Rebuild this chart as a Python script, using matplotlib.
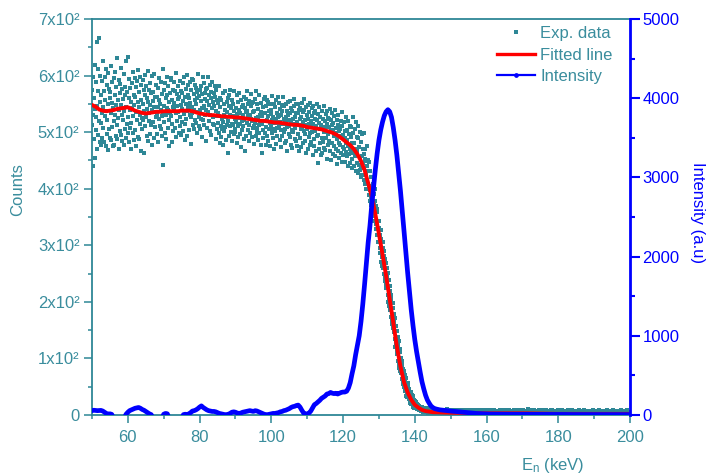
import numpy as np
import matplotlib
matplotlib.use('Agg')
import matplotlib.pyplot as plt
from matplotlib.lines import Line2D
from matplotlib.ticker import MultipleLocator

# ---------------- data ----------------
# Experimental counts, 0.1 keV grid starting at 50 keV
counts_50_84 = [
    512, 575, 441, 598, 530, 487, 560, 619, 455, 541,
    503, 588, 527, 470, 659, 546, 612, 495, 572, 520,
    666, 482, 553, 600, 517, 478, 566, 534, 591, 489,
    626, 544, 507, 572, 483, 598, 529, 556, 476, 612,
    538, 497, 583, 521, 604, 468, 549, 577, 505, 560,
    490, 571, 533, 617, 486, 552, 509, 588, 475, 543,
    596, 520, 478, 565, 531, 607, 493, 548, 580, 512,
    631, 487, 556, 525, 592, 471, 540, 569, 502, 585,
    548, 613, 495, 530, 576, 484, 559, 521, 603, 478,
    537, 580, 506, 565, 490, 626, 545, 514, 571, 498,
    633, 527, 561, 482, 594, 539, 508, 578, 553, 471,
    517, 586, 542, 499, 607, 528, 565, 486, 548, 595,
    562, 503, 579, 536, 476, 590, 521, 554, 610, 492,
    545, 571, 488, 598, 530, 514, 583, 467, 556, 525,
    505, 592, 549, 521, 574, 463, 538, 601, 510, 566,
    582, 527, 494, 560, 541, 608, 485, 553, 519, 574,
    533, 496, 587, 548, 512, 569, 477, 599, 539, 555,
    571, 518, 545, 603, 490, 536, 562, 509, 584, 527,
    497, 563, 531, 578, 544, 482, 595, 524, 557, 511,
    550, 589, 506, 540, 567, 493, 528, 612, 535, 442,
    518, 574, 547, 499, 586, 530, 561, 488, 543, 597,
    565, 508, 539, 581, 522, 553, 476, 570, 534, 592,
    529, 596, 483, 557, 515, 575, 545, 502, 588, 540,
    551, 507, 572, 534, 604, 491, 546, 567, 520, 558,
    582, 536, 499, 563, 527, 590, 511, 548, 573, 495,
    541, 569, 518, 586, 502, 555, 532, 598, 486, 562,
    515, 577, 549, 523, 601, 537, 494, 566, 545, 583,
    560, 503, 588, 531, 552, 479, 574, 526, 594, 544,
    533, 592, 512, 567, 540, 505, 584, 556, 521, 578,
    549, 517, 571, 498, 560, 535, 603, 511, 564, 527,
    574, 539, 506, 581, 524, 555, 492, 568, 543, 597,
    521, 586, 547, 513, 570, 531, 559, 484, 576, 540,
    555, 508, 578, 536, 597, 519, 548, 566, 502, 583,
    530, 571, 495, 560, 542, 588, 514, 553, 527, 569,
    547, 512, 582, 529, 563, 487, 575, 538, 556, 506,
]
counts_85_119 = [
    551, 516, 533, 582, 499, 528, 560, 481, 544, 511,
    492, 557, 524, 505, 569, 518, 477, 550, 531, 502,
    540, 509, 572, 486, 527, 554, 513, 536, 463, 561,
    519, 546, 494, 565, 510, 531, 575, 500, 542, 515,
    557, 484, 529, 512, 550, 497, 538, 573, 506, 524,
    501, 543, 518, 566, 480, 532, 511, 554, 491, 539,
    525, 570, 496, 534, 514, 557, 473, 545, 520, 503,
    548, 510, 531, 488, 562, 522, 542, 466, 536, 559,
    494, 538, 573, 517, 503, 549, 528, 485, 555, 513,
    531, 499, 546, 524, 567, 492, 520, 551, 508, 536,
    553, 510, 479, 537, 516, 558, 494, 525, 572, 501,
    508, 549, 527, 486, 541, 512, 565, 498, 530, 518,
    536, 477, 552, 514, 464, 529, 503, 545, 490, 559,
    520, 563, 499, 533, 509, 478, 547, 522, 556, 493,
    485, 528, 554, 506, 538, 517, 475, 549, 511, 532,
    540, 498, 521, 564, 489, 527, 505, 549, 471, 517,
    502, 545, 479, 523, 557, 508, 534, 493, 526, 563,
    529, 510, 552, 486, 518, 541, 474, 531, 504, 548,
    493, 537, 515, 562, 500, 524, 547, 481, 520, 506,
    549, 484, 526, 509, 538, 467, 530, 554, 497, 522,
    510, 555, 491, 533, 477, 518, 543, 504, 538, 472,
    524, 500, 546, 514, 559, 488, 526, 507, 549, 485,
    533, 475, 518, 550, 497, 534, 512, 467, 540, 523,
    489, 543, 505, 527, 474, 552, 509, 536, 481, 518,
    539, 502, 558, 485, 521, 497, 544, 513, 464, 530,
    505, 548, 470, 523, 492, 536, 514, 477, 552, 499,
    520, 482, 543, 501, 529, 460, 514, 547, 488, 533,
    476, 524, 502, 538, 466, 511, 550, 493, 521, 445,
    532, 495, 517, 471, 544, 506, 480, 527, 459, 512,
    489, 537, 463, 509, 524, 483, 546, 501, 472, 520,
    507, 468, 532, 490, 515, 453, 538, 496, 525, 478,
    524, 485, 509, 541, 467, 502, 521, 450, 513, 533,
    481, 516, 462, 504, 529, 475, 494, 540, 457, 508,
    498, 471, 522, 443, 487, 513, 466, 531, 480, 502,
    454, 506, 477, 520, 463, 494, 535, 448, 511, 473,
]
counts_120_144 = [
    495, 460, 518, 471, 502, 447, 489, 526, 465, 480,
    503, 458, 486, 519, 441, 475, 497, 462, 510, 470,
    445, 492, 468, 509, 452, 481, 436, 499, 463, 527,
    480, 440, 505, 458, 471, 431, 518, 465, 492, 446,
    467, 428, 489, 510, 442, 474, 433, 501, 456, 420,
    483, 437, 458, 424, 496, 445, 470, 415, 462, 498,
    452, 408, 471, 425, 449, 399, 440, 476, 414, 451,
    432, 389, 447, 404, 378, 431, 398, 386, 421, 372,
    405, 362, 396, 351, 409, 371, 343, 390, 358, 399,
    379, 337, 369, 328, 364, 318, 358, 331, 306, 343,
    343, 330, 296, 318, 286, 327, 270, 311, 279, 264,
    305, 259, 295, 281, 250, 290, 236, 243, 276, 229,
    268, 224, 259, 244, 213, 251, 199, 206, 238, 193,
    228, 185, 219, 205, 174, 212, 160, 167, 198, 154,
    189, 146, 178, 164, 135, 172, 120, 127, 157, 114,
    148, 108, 138, 123, 96, 131, 83, 89, 116, 77,
    111, 74, 101, 88, 64, 95, 54, 58, 82, 49,
    78, 49, 71, 60, 42, 66, 34, 38, 55, 31,
    56, 33, 50, 42, 28, 46, 22, 25, 38, 20,
    40, 23, 36, 30, 18, 33, 14, 16, 27, 12,
    25, 18, 23, 14, 21, 12, 19, 11, 17, 10,
    18, 12, 16, 9, 15, 8, 14, 7, 13, 9,
    14, 8, 12, 6, 11, 7, 13, 5, 10, 8,
    11, 6, 10, 5, 9, 12, 7, 4, 9, 6,
    10, 5, 8, 11, 6, 4, 9, 7, 5, 8,
]
counts_145_200 = [
    7, 4, 9, 5, 8, 3, 6, 10, 5, 7,
    6, 8, 4, 7, 5, 9, 3, 6, 8, 5,
    4, 7, 6, 9, 5, 3, 8, 6, 4, 7,
    9, 5, 6, 3, 8, 5, 7, 4, 6, 10,
    5, 7, 4, 6, 8, 3, 5, 9, 6, 4,
    6, 3, 8, 5, 4, 7, 5, 9, 3, 6,
    7, 5, 4, 8, 6, 3, 5, 7, 4, 9,
    4, 6, 8, 5, 3, 7, 6, 4, 8, 5,
    6, 9, 4, 5, 7, 3, 6, 5, 8, 4,
    3, 5, 7, 4, 6, 8, 5, 3, 6, 7,
    5, 8, 3, 6, 4, 7, 5, 9, 4, 6,
    7, 4, 6, 3, 8, 5, 4, 6, 7, 3,
    4, 6, 5, 8, 3, 6, 7, 4, 5, 9,
    6, 3, 7, 5, 4, 8, 5, 6, 3, 7,
    5, 7, 4, 6, 9, 4, 3, 6, 5, 8,
    4, 6, 3, 5, 7, 4, 8, 5, 6, 3,
    7, 5, 4, 9, 5, 3, 6, 4, 7, 5,
    3, 6, 8, 4, 5, 7, 4, 6, 3, 5,
    6, 4, 5, 7, 3, 6, 5, 8, 4, 6,
    5, 8, 4, 3, 6, 5, 7, 4, 5, 9,
    4, 5, 7, 6, 3, 8, 4, 6, 5, 3,
    6, 3, 5, 8, 4, 6, 7, 3, 5, 6,
    7, 5, 4, 6, 5, 3, 9, 5, 4, 7,
    3, 6, 5, 4, 8, 6, 4, 5, 7, 3,
    5, 4, 7, 6, 3, 5, 8, 4, 6, 5,
    6, 8, 3, 5, 6, 4, 5, 7, 3, 6,
    4, 5, 6, 3, 7, 5, 4, 10, 5, 4,
    5, 7, 4, 6, 5, 3, 6, 4, 8, 5,
    3, 5, 8, 4, 6, 7, 3, 5, 4, 6,
    6, 4, 5, 7, 3, 5, 6, 8, 4, 5,
    5, 6, 3, 4, 8, 5, 4, 6, 5, 7,
    4, 7, 5, 6, 3, 6, 9, 4, 5, 3,
    6, 3, 4, 5, 7, 4, 5, 3, 6, 8,
    5, 6, 8, 3, 5, 6, 4, 7, 5, 4,
    7, 4, 5, 6, 4, 3, 6, 5, 8, 5,
    3, 5, 6, 4, 7, 5, 3, 6, 4, 6,
    5, 8, 4, 5, 3, 6, 5, 4, 7, 5,
    6, 4, 3, 7, 5, 4, 8, 5, 3, 6,
    4, 5, 7, 5, 6, 3, 5, 6, 4, 9,
    5, 3, 6, 4, 5, 7, 4, 3, 6, 5,
    7, 5, 4, 6, 3, 5, 6, 8, 4, 5,
    4, 6, 5, 3, 7, 4, 5, 6, 3, 7,
    5, 4, 8, 5, 4, 6, 3, 5, 7, 4,
    6, 5, 3, 6, 5, 4, 7, 4, 5, 6,
    3, 7, 5, 4, 6, 5, 4, 6, 8, 5,
    5, 4, 6, 7, 3, 5, 6, 4, 5, 3,
    6, 5, 4, 5, 8, 4, 3, 6, 5, 7,
    4, 6, 5, 3, 5, 7, 5, 4, 6, 5,
    7, 3, 6, 5, 4, 6, 5, 8, 4, 5,
    5, 6, 4, 7, 5, 3, 6, 5, 4, 6,
    4, 5, 8, 4, 6, 5, 3, 7, 5, 4,
    6, 4, 5, 6, 3, 7, 5, 4, 6, 5,
    5, 7, 4, 5, 6, 4, 8, 5, 3, 6,
    4, 5, 6, 3, 7, 5, 4, 6, 5, 7,
    6, 4, 5, 8, 4, 6, 5, 3, 6, 4,
    5,
]
EXP_START, EXP_STEP = 50.0, 0.1

# Fitted line (keV, counts)
fit_energy = list(range(50, 146)) + [150, 160, 170, 180, 190, 200]
fit_counts = [
    548, 545, 540, 538, 537, 538, 539, 541, 542, 543,
    544, 541, 538, 536, 534, 533, 534, 535, 536, 536,
    537, 537, 537, 537, 537, 538, 538, 538, 537, 535,
    533, 532, 531, 530, 530, 529, 528, 528, 527, 527,
    526, 526, 525, 524, 523, 522, 521, 520, 520, 519,
    518, 517, 517, 516, 515, 514, 513, 513, 512, 511,
    509, 508, 507, 506, 505, 503, 501, 499, 496, 492,
    487, 482, 477, 470, 461, 449, 433, 410, 386, 355,
    320, 284, 246, 205, 163, 121, 86, 58, 40, 27,
    18, 13, 9, 7, 6, 5,
    4, 3, 3, 2, 2, 2,
]

# Intensity (a.u.), 0.5 keV grid from 50 to 160 keV, then 1 keV grid to 200 keV
intensity_fine = [
    55, 60, 58, 55, 56, 58, 50, 35, 20, 10,
    15, 8, -40, -40, -40, -40, -40, -40, -40, 10,
    35, 55, 65, 75, 85, 90, 95, 85, 70, 60,
    45, 30, 15, 5, -40, -40, -40, -40, -40, -40,
    10, 20, 15, -40, -40, -40, -40, -40, -40, -40,
    -40, 5, 10, 5, 15, 30, 50, 55, 65, 80,
    100, 115, 95, 80, 65, 55, 50, 45, 45, 40,
    30, 20, 15, 10, 5, 5, 10, 20, 35, 40,
    35, 25, 20, 25, 35, 40, 45, 50, 55, 50,
    45, 55, 50, 40, 30, 20, 10, 5, 5, 10,
    15, 20, 20, 25, 30, 40, 45, 55, 60, 70,
    80, 95, 105, 110, 120, 125, 100, 60, 25, 10,
    15, 25, 50, 90, 130, 145, 165, 185, 210, 225,
    240, 265, 270, 285, 275, 270, 275, 265, 275, 285,
    290, 290, 300, 340, 410, 520, 620, 760, 880, 1000,
    1180, 1400, 1650, 1920, 2180, 2390, 2650, 2880, 3100, 3300,
    3470, 3600, 3700, 3780, 3830, 3855, 3830, 3760, 3630, 3470,
    3280, 3060, 2830, 2580, 2320, 2060, 1800, 1560, 1330, 1130,
    950, 800, 670, 540, 420, 330, 250, 190, 150, 115,
    95, 82, 75, 70, 65, 62, 60, 58, 55, 52,
    50, 48, 45, 44, 42, 40, 38, 36, 35, 32,
    30, 28, 25, 22, 20, 19, 18, 16, 15, 14,
    13,
]
intensity_coarse = [
    12, 12, 11, 11, 10, 10, 10, 9, 9, 9,
    9, 8, 8, 8, 8, 8, 7, 7, 7, 7,
    7, 7, 6, 6, 6, 6, 6, 6, 6, 5,
    5, 5, 5, 5, 5, 5, 5, 5, 5, 5,
]

count_ticks = [0, 100, 200, 300, 400, 500, 600, 700]
count_ticklabels = ['0', '1x10\u00b2', '2x10\u00b2', '3x10\u00b2', '4x10\u00b2',
                    '5x10\u00b2', '6x10\u00b2', '7x10\u00b2']
energy_ticks = [60, 80, 100, 120, 140, 160, 180, 200]
intensity_ticks = [0, 1000, 2000, 3000, 4000, 5000]

# ---------------- build arrays ----------------
exp_counts = np.array(counts_50_84 + counts_85_119 + counts_120_144 + counts_145_200, float)
exp_energy = EXP_START + EXP_STEP * np.arange(len(exp_counts))

int_energy = np.concatenate([50 + 0.5 * np.arange(len(intensity_fine)),
                             161 + np.arange(len(intensity_coarse))])
int_values = np.array(intensity_fine + intensity_coarse, float)

# ---------------- style ----------------
plt.rcParams['font.family'] = ['Liberation Sans', 'DejaVu Sans']
plt.rcParams['mathtext.fontset'] = 'custom'
plt.rcParams['mathtext.rm'] = 'Liberation Sans'
plt.rcParams['mathtext.it'] = 'Liberation Sans'

TEAL = '#2e8796'
TEXT_TEAL = '#3a8d9d'
BLUE = '#0000ff'
FS = 12

fig = plt.figure(figsize=(7.08, 4.75), dpi=100)
ax = fig.add_axes([92 / 708, 60 / 475, 538 / 708, 396 / 475])
ax2 = ax.twinx()

ax.scatter(exp_energy, exp_counts, marker='s', s=5.5, color=TEAL, linewidths=0, zorder=2)
ax.plot(fit_energy, fit_counts, color='red', lw=2.8, zorder=3, solid_capstyle='round')
ax2.plot(int_energy, int_values, color=BLUE, lw=3.4, zorder=4, solid_joinstyle='round')

ax.set_xlim(50, 200)
ax.set_ylim(0, 700)
ax2.set_ylim(0, 5000)

ax.set_xticks(energy_ticks)
ax.set_xticklabels([str(v) for v in energy_ticks])
ax.xaxis.set_minor_locator(MultipleLocator(10))
ax.set_yticks(count_ticks)
ax.set_yticklabels(count_ticklabels)
ax.yaxis.set_minor_locator(MultipleLocator(50))
ax2.set_yticks(intensity_ticks)
ax2.set_yticklabels([str(v) for v in intensity_ticks])
ax2.yaxis.set_minor_locator(MultipleLocator(500))

ax.tick_params(axis='both', which='major', direction='out', length=6, width=1.1,
               color=TEAL, labelcolor=TEXT_TEAL, labelsize=FS)
ax.tick_params(axis='both', which='minor', direction='out', length=3, width=1.1, color=TEAL)
ax.tick_params(axis='x', which='major', pad=5)
ax.tick_params(axis='y', which='major', pad=3)
ax2.tick_params(axis='y', which='major', direction='out', length=7, width=1.5,
                color=BLUE, labelcolor=BLUE, labelsize=FS, pad=2)
ax2.tick_params(axis='y', which='minor', direction='out', length=3.5, width=1.5, color=BLUE)

for s in ('left', 'bottom', 'top'):
    ax.spines[s].set_color(TEAL)
    ax.spines[s].set_linewidth(1.3)
    ax2.spines[s].set_visible(False)
ax.spines['right'].set_visible(False)
ax2.spines['right'].set_color(BLUE)
ax2.spines['right'].set_linewidth(2.0)

fig.text(17.5 / 708, 1 - 190 / 475, 'Counts', rotation=90, ha='center', va='center',
         color=TEXT_TEAL, fontsize=FS)
fig.text(698 / 708, 1 - 213 / 475, 'Intensity (a.u)', rotation=270, ha='center', va='center',
         color=BLUE, fontsize=FS)
fig.text(553 / 708, 1 - 456 / 475, 'E$_n$ (keV)', ha='center', va='top',
         color=TEXT_TEAL, fontsize=FS)

handles = [
    Line2D([], [], ls='none', marker='s', ms=2.6, color=TEAL, markeredgewidth=0),
    Line2D([], [], color='red', lw=2.4),
    Line2D([], [], color=BLUE, lw=1.6, marker='o', ms=2.4),
]
labels = ['Exp. data', 'Fitted line', 'Intensity']
leg = ax2.legend(handles, labels, loc='upper left', bbox_to_anchor=(497 / 708, 1 - 26 / 475),
                 bbox_transform=fig.transFigure, frameon=False, fontsize=FS,
                 labelcolor=TEXT_TEAL, handlelength=2.3, handletextpad=0.3,
                 labelspacing=0.4, borderpad=0, borderaxespad=0)

fig.savefig('out.png', dpi=100)
